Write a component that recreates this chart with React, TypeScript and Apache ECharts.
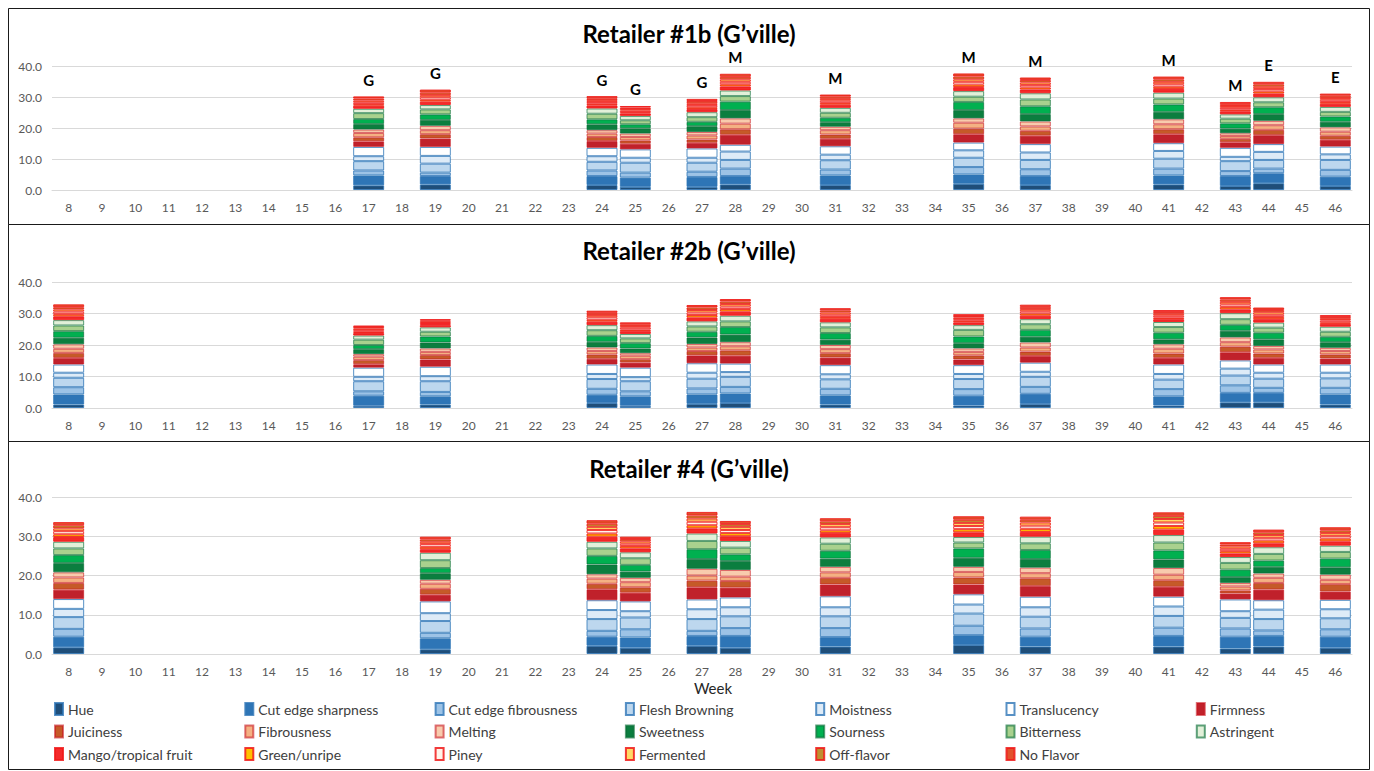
import { useEffect, useRef } from 'react';
import * as echarts from 'echarts';

// Week numbers along the x axis
const weeks = [
  '8', '9', '10', '11', '12', '13', '14', '15', '16', '17', '18', '19', '20', '21', '22', '23', '24', '25', '26', '27',
  '28', '29', '30', '31', '32', '33', '34', '35', '36', '37', '38', '39', '40', '41', '42', '43', '44', '45', '46',
];

const yTicks = [0, 10, 20, 30, 40];

const attributes = [
  'Hue', 'Cut edge sharpness', 'Cut edge fibrousness', 'Flesh Browning', 'Moistness', 'Translucency', 'Firmness',
  'Juiciness', 'Fibrousness', 'Melting', 'Sweetness', 'Sourness', 'Bitterness', 'Astringent',
  'Mango/tropical fruit', 'Green/unripe', 'Piney', 'Fermented', 'Off-flavor', 'No Flavor',
];

const attributeColors = [
  '#1F4E79', '#2E75B6', '#9DC3E6', '#BDD7EE', '#DEEBF7', '#FFFFFF', '#C0212B',
  '#C55A28', '#F4B183', '#F8CBAD', '#0B7E3F', '#00B050', '#A9D18E', '#E2F0D9',
  '#F42A2A', '#FFC000', '#FFF4EA', '#FFD966', '#BF8F30', '#E2512C',
];

const blueEdge = 'rgba(46,117,182,0.8)';
const redEdge = 'rgba(200,20,30,0.6)';
const greenEdge = 'rgba(10,110,55,0.65)';
const flavorEdge = 'rgba(240,25,25,0.85)';
const attributeEdges = [
  blueEdge, blueEdge, blueEdge, blueEdge, blueEdge, blueEdge,
  redEdge, redEdge, redEdge, redEdge,
  greenEdge, greenEdge, greenEdge, greenEdge,
  flavorEdge, flavorEdge, flavorEdge, flavorEdge, flavorEdge, flavorEdge,
];

// ---------------- Retailer #1b ----------------
const r1bWeeks = [17, 19, 24, 25, 27, 28, 31, 35, 37, 41, 43, 44, 46];
const r1bLetters = ['G', 'G', 'G', 'G', 'G', 'M', 'M', 'M', 'M', 'M', 'M', 'E', 'E'];
const r1bHue = [1.5, 1.8, 1.6, 1.0, 1.0, 1.8, 1.6, 2.0, 1.6, 1.8, 1.3, 2.2, 1.3];
const r1bSharp = [3.2, 2.7, 2.9, 3.0, 3.2, 2.7, 3.1, 3.0, 2.9, 2.9, 3.2, 3.2, 3.0];
const r1bEdgeFib = [1.6, 1.1, 1.8, 1.6, 1.7, 2.4, 1.9, 2.4, 2.2, 2.2, 1.6, 1.5, 2.2];
const r1bBrown = [3.0, 2.9, 2.8, 3.2, 2.9, 2.8, 3.0, 3.0, 3.0, 3.2, 3.2, 2.8, 3.2];
const r1bMoist = [1.6, 2.5, 1.8, 1.6, 1.6, 2.7, 1.8, 2.4, 2.4, 2.5, 1.4, 2.6, 1.8];
const r1bTrans = [3.0, 2.9, 2.7, 2.7, 3.0, 2.2, 2.7, 2.5, 2.7, 2.5, 2.9, 2.5, 2.5];
const r1bFirm = [1.8, 2.7, 2.2, 1.8, 1.8, 3.2, 2.4, 2.7, 2.7, 2.9, 1.8, 2.9, 2.2];
const r1bJuicy = [1.3, 1.4, 1.3, 1.1, 1.1, 1.8, 1.4, 1.8, 1.6, 1.6, 1.1, 1.7, 1.3];
const r1bFib = [1.4, 1.3, 1.1, 1.1, 1.3, 1.8, 1.4, 1.9, 1.4, 1.6, 0.9, 1.5, 1.3];
const r1bMelt = [1.1, 1.4, 1.1, 1.1, 1.1, 1.7, 1.1, 1.4, 1.6, 1.6, 0.9, 1.4, 1.4];
const r1bSweet = [1.8, 1.9, 1.9, 1.7, 1.9, 2.7, 1.5, 2.7, 2.4, 2.4, 1.5, 2.2, 1.8];
const r1bSour = [1.6, 1.8, 1.6, 1.3, 1.4, 2.7, 1.4, 2.6, 2.5, 2.4, 1.7, 2.2, 1.7];
const r1bBitter = [1.9, 1.6, 1.8, 1.3, 1.5, 1.8, 1.6, 1.7, 2.2, 1.9, 1.5, 1.6, 1.5];
const r1bAstr = [1.4, 1.4, 1.7, 1.4, 1.6, 1.8, 1.6, 1.8, 2.0, 1.9, 1.4, 1.6, 1.6];
const r1bMango = [1.0, 1.1, 1.0, 0.8, 1.0, 1.3, 1.0, 1.3, 1.2, 1.2, 1.0, 1.2, 1.0];
const r1bGreen = [0.5, 0.6, 0.5, 0.4, 0.6, 0.7, 0.6, 0.8, 0.7, 0.7, 0.5, 0.7, 0.6];
const r1bPiney = [0.6, 0.8, 0.6, 0.5, 0.7, 0.8, 0.7, 0.9, 0.8, 0.8, 0.6, 0.8, 0.7];
const r1bFerm = [0.6, 0.7, 0.6, 0.5, 0.6, 0.8, 0.6, 0.8, 0.8, 0.8, 0.6, 0.7, 0.6];
const r1bOff = [0.6, 0.8, 0.6, 0.5, 0.7, 0.8, 0.7, 0.9, 0.8, 0.8, 0.6, 0.8, 0.7];
const r1bNoFlavor = [0.7, 1.0, 0.7, 0.5, 0.7, 1.0, 0.7, 1.0, 0.8, 0.9, 0.7, 0.8, 0.7];

// ---------------- Retailer #2b ----------------
const r2bWeeks = [8, 17, 19, 24, 25, 27, 28, 31, 35, 37, 41, 43, 44, 46];
const r2bHue = [1.1, 0.7, 1.1, 1.6, 0.7, 1.3, 1.6, 1.1, 0.8, 1.3, 0.8, 1.8, 1.8, 1.1];
const r2bSharp = [3.2, 3.2, 2.6, 2.6, 3.0, 3.0, 3.0, 2.9, 3.1, 3.2, 2.9, 3.0, 3.0, 3.2];
const r2bEdgeFib = [2.3, 1.4, 1.4, 1.9, 1.6, 1.9, 2.1, 2.1, 2.1, 2.2, 2.3, 2.4, 1.6, 2.1];
const r2bBrown = [3.0, 3.2, 3.4, 3.1, 3.2, 3.1, 3.2, 3.0, 3.2, 3.2, 3.0, 3.1, 2.9, 3.0];
const r2bMoist = [1.6, 1.4, 1.6, 1.6, 1.3, 1.9, 1.5, 1.6, 1.6, 1.6, 1.8, 2.2, 1.9, 1.8];
const r2bTrans = [2.6, 2.9, 3.0, 3.0, 3.0, 3.0, 2.7, 2.9, 2.8, 2.9, 3.0, 2.6, 2.6, 2.6];
const r2bFirm = [2.1, 1.1, 2.3, 1.8, 1.6, 2.5, 2.5, 2.4, 1.8, 2.1, 2.1, 2.6, 2.1, 1.9];
const r2bJuicy = [1.6, 1.3, 1.4, 1.4, 1.1, 1.4, 1.7, 1.4, 1.3, 1.4, 1.4, 1.8, 1.4, 1.3];
const r2bFib = [1.3, 1.1, 1.0, 1.1, 1.1, 1.1, 1.3, 1.3, 1.1, 1.3, 1.5, 1.4, 1.3, 1.1];
const r2bMelt = [1.4, 0.8, 1.1, 1.1, 0.8, 1.1, 1.3, 1.3, 1.1, 1.6, 1.4, 1.5, 1.1, 1.0];
const r2bSweet = [2.1, 1.6, 1.9, 1.8, 1.5, 2.1, 2.4, 1.7, 1.7, 1.8, 1.6, 2.1, 2.1, 1.8];
const r2bSour = [2.1, 1.3, 1.9, 1.9, 1.7, 1.8, 2.4, 2.1, 2.1, 2.2, 2.1, 1.9, 2.1, 1.7];
const r2bBitter = [1.8, 1.7, 1.5, 1.8, 1.5, 1.7, 1.8, 1.8, 2.1, 1.8, 1.8, 1.8, 1.6, 1.6];
const r2bAstr = [1.7, 1.3, 1.4, 1.6, 1.4, 1.6, 1.8, 1.6, 1.5, 1.6, 1.6, 1.9, 1.6, 1.6];
const r2bMango = [1.2, 0.8, 0.7, 1.1, 0.9, 1.2, 1.3, 1.1, 0.9, 1.1, 0.9, 1.2, 1.1, 0.9];
const r2bGreen = [0.7, 0.4, 0.3, 0.6, 0.5, 0.8, 0.8, 0.6, 0.5, 0.7, 0.5, 0.8, 0.7, 0.5];
const r2bPiney = [0.8, 0.5, 0.4, 0.8, 0.6, 0.8, 0.8, 0.7, 0.5, 0.7, 0.6, 0.8, 0.7, 0.6];
const r2bFerm = [0.7, 0.5, 0.4, 0.7, 0.5, 0.8, 0.8, 0.7, 0.5, 0.7, 0.6, 0.8, 0.8, 0.5];
const r2bOff = [0.7, 0.5, 0.4, 0.7, 0.6, 0.8, 0.8, 0.7, 0.5, 0.7, 0.6, 0.7, 0.7, 0.6];
const r2bNoFlavor = [0.9, 0.5, 0.4, 0.7, 0.6, 0.8, 0.8, 0.7, 0.6, 0.7, 0.6, 0.8, 0.8, 0.6];

// ---------------- Retailer #4 ----------------
const r4Weeks = [8, 19, 24, 25, 27, 28, 31, 35, 37, 41, 43, 44, 46];
const r4Hue = [1.7, 1.2, 2.1, 1.6, 2.1, 1.6, 1.9, 2.3, 1.9, 1.9, 1.4, 1.9, 1.6];
const r4Sharp = [2.7, 2.8, 2.3, 2.6, 2.5, 3.0, 2.4, 2.5, 2.5, 2.7, 3.0, 2.7, 2.8];
const r4EdgeFib = [2.0, 1.4, 1.5, 2.1, 1.3, 2.0, 2.3, 2.4, 2.1, 2.1, 2.1, 1.4, 1.9];
const r4Brown = [3.0, 3.0, 3.0, 3.0, 3.0, 3.0, 3.0, 3.1, 3.0, 3.0, 2.7, 2.9, 2.8];
const r4Moist = [2.1, 2.0, 2.3, 1.6, 2.5, 2.3, 2.3, 2.3, 2.4, 2.4, 1.7, 2.4, 2.3];
const r4Trans = [2.5, 3.0, 2.5, 2.5, 2.5, 2.5, 2.8, 2.6, 2.7, 2.5, 3.0, 2.4, 2.4];
const r4Firm = [2.4, 1.7, 2.8, 2.2, 3.1, 2.5, 3.0, 2.5, 2.7, 2.5, 1.5, 2.7, 2.1];
const r4Juicy = [1.7, 1.5, 1.4, 1.4, 1.7, 1.7, 1.7, 1.8, 2.0, 1.7, 0.8, 1.7, 1.9];
const r4Fib = [1.4, 1.3, 1.3, 1.3, 1.3, 1.1, 1.4, 1.4, 1.3, 1.4, 1.0, 1.3, 1.1];
const r4Melt = [1.3, 1.0, 1.1, 1.1, 1.7, 1.7, 1.4, 1.3, 1.4, 1.7, 0.9, 1.1, 1.3];
const r4Sweet = [2.4, 1.7, 2.5, 1.6, 2.5, 2.3, 2.1, 2.3, 2.2, 2.2, 1.5, 1.7, 1.9];
const r4Sour = [2.0, 1.3, 2.2, 1.7, 2.5, 1.7, 2.0, 2.4, 2.3, 2.3, 1.9, 1.6, 2.2];
const r4Bitter = [1.7, 2.0, 1.9, 1.7, 2.1, 1.7, 1.8, 1.5, 1.7, 2.0, 1.7, 1.7, 1.7];
const r4Astr = [1.7, 1.9, 1.7, 1.5, 1.9, 1.7, 1.6, 1.4, 1.7, 1.9, 1.5, 1.7, 1.6];
const r4Mango = [1.2, 0.9, 1.3, 1.0, 1.3, 1.2, 1.1, 1.2, 1.2, 1.4, 0.9, 1.0, 1.1];
const r4Green = [0.7, 0.6, 0.8, 0.6, 0.8, 0.8, 0.7, 0.8, 0.8, 0.9, 0.6, 0.7, 0.7];
const r4Piney = [0.8, 0.7, 0.9, 0.6, 0.9, 0.8, 0.8, 0.8, 0.8, 0.9, 0.6, 0.7, 0.7];
const r4Ferm = [0.7, 0.6, 0.8, 0.6, 0.8, 0.8, 0.8, 0.8, 0.8, 0.9, 0.6, 0.7, 0.7];
const r4Off = [0.8, 0.6, 0.8, 0.6, 0.8, 0.7, 0.7, 0.8, 0.7, 0.8, 0.5, 0.7, 0.7];
const r4NoFlavor = [0.8, 0.7, 0.9, 0.6, 0.9, 0.8, 0.8, 0.9, 0.8, 0.9, 0.6, 0.7, 0.8];

const r1bRows = [
  r1bHue, r1bSharp, r1bEdgeFib, r1bBrown, r1bMoist, r1bTrans, r1bFirm, r1bJuicy, r1bFib, r1bMelt,
  r1bSweet, r1bSour, r1bBitter, r1bAstr, r1bMango, r1bGreen, r1bPiney, r1bFerm, r1bOff, r1bNoFlavor,
];
const r2bRows = [
  r2bHue, r2bSharp, r2bEdgeFib, r2bBrown, r2bMoist, r2bTrans, r2bFirm, r2bJuicy, r2bFib, r2bMelt,
  r2bSweet, r2bSour, r2bBitter, r2bAstr, r2bMango, r2bGreen, r2bPiney, r2bFerm, r2bOff, r2bNoFlavor,
];
const r4Rows = [
  r4Hue, r4Sharp, r4EdgeFib, r4Brown, r4Moist, r4Trans, r4Firm, r4Juicy, r4Fib, r4Melt,
  r4Sweet, r4Sour, r4Bitter, r4Astr, r4Mango, r4Green, r4Piney, r4Ferm, r4Off, r4NoFlavor,
];

const FONT = 'Lato, "Open Sans", sans-serif';

const panels = [
  { title: 'Retailer #1b (G\u2019ville)', sampled: r1bWeeks, rows: r1bRows, letters: r1bLetters, top: 66, height: 124, titleY: 33, box: [8.5, 8.5, 1361, 216] },
  { title: 'Retailer #2b (G\u2019ville)', sampled: r2bWeeks, rows: r2bRows, letters: null as string[] | null, top: 282, height: 126, titleY: 250, box: [8.5, 224.5, 1361, 217] },
  { title: 'Retailer #4 (G\u2019ville)', sampled: r4Weeks, rows: r4Rows, letters: null as string[] | null, top: 497, height: 157, titleY: 468, box: [8.5, 441.5, 1361, 328] },
];

function spread(sampled: number[], values: number[]) {
  return weeks.map((w) => {
    const i = sampled.indexOf(Number(w));
    return i >= 0 ? values[i] : null;
  });
}

function buildOption() {
  const grid: any[] = [];
  const xAxis: any[] = [];
  const yAxis: any[] = [];
  const series: any[] = [];
  const graphic: any[] = [];

  panels.forEach((p, pi) => {
    grid.push({ left: 52, width: 1300, top: p.top, height: p.height });
    xAxis.push({
      type: 'category',
      gridIndex: pi,
      data: weeks,
      axisTick: { show: false },
      axisLine: { lineStyle: { color: '#D9D9D9', width: 1 } },
      axisLabel: { interval: 0, color: '#595959', fontSize: 12, fontFamily: FONT, margin: 11 },
    });
    yAxis.push({
      type: 'value',
      gridIndex: pi,
      min: yTicks[0],
      max: yTicks[yTicks.length - 1],
      interval: 10,
      axisLine: { show: false },
      axisTick: { show: false },
      axisLabel: { color: '#595959', fontSize: 12, fontFamily: FONT, margin: 10, formatter: (v: number) => v.toFixed(1) },
      splitLine: { lineStyle: { color: '#D9D9D9', width: 1 } },
    });

    attributes.forEach((name, ai) => {
      const isTop = ai === attributes.length - 1;
      const s: any = {
        type: 'bar',
        name,
        stack: 'panel' + pi,
        xAxisIndex: pi,
        yAxisIndex: pi,
        barCategoryGap: '7%',
        data: spread(p.sampled, p.rows[ai]),
        itemStyle: { color: attributeColors[ai], borderColor: attributeEdges[ai], borderWidth: 1 },
        emphasis: { disabled: true },
      };
      if (isTop && p.letters) {
        const letters = p.letters;
        const sampled = p.sampled;
        s.label = {
          show: true,
          position: 'top',
          distance: 9,
          fontSize: 15,
          fontWeight: 'bold',
          fontFamily: FONT,
          color: '#000000',
          formatter: (params: any) => {
            const i = sampled.indexOf(Number(params.name));
            return i >= 0 ? letters[i] : '';
          },
        };
      }
      series.push(s);
    });

    graphic.push({
      type: 'rect',
      shape: { x: p.box[0], y: p.box[1], width: p.box[2], height: p.box[3] },
      style: { fill: 'none', stroke: '#1a1a1a', lineWidth: 1 },
      silent: true,
    });
    graphic.push({
      type: 'text',
      x: 689,
      y: p.titleY,
      style: {
        text: p.title,
        font: `bold 24px ${FONT}`,
        fill: '#000000',
        textAlign: 'center',
        textVerticalAlign: 'middle',
        align: 'center',
        verticalAlign: 'middle',
      },
      silent: true,
    });
  });

  graphic.push({
    type: 'text',
    x: 713,
    y: 688,
    style: {
      text: 'Week',
      font: `15px ${FONT}`,
      fill: '#262626',
      textAlign: 'center',
      textVerticalAlign: 'middle',
      align: 'center',
      verticalAlign: 'middle',
    },
    silent: true,
  });

  // Seven legend columns, three rows each
  const legend: any[] = [];
  for (let c = 0; c < 7; c++) {
    const items = [attributes[c], attributes[c + 7], attributes[c + 14]].filter(Boolean);
    legend.push({
      orient: 'vertical',
      left: 54 + c * 190.3,
      top: 701,
      height: 70,
      padding: 0,
      itemWidth: 8,
      itemHeight: 12,
      itemGap: 6.5,
      icon: 'rect',
      selectedMode: false,
      data: items,
      textStyle: { fontFamily: FONT, fontSize: 14, lineHeight: 16, color: '#404040' },
    });
  }

  return {
    animation: false,
    backgroundColor: '#ffffff',
    grid,
    xAxis,
    yAxis,
    series,
    legend,
    graphic,
  };
}

export default function App() {
  const ref = useRef<HTMLDivElement>(null);

  useEffect(() => {
    if (!ref.current) return;
    const chart = echarts.init(ref.current, undefined, { renderer: 'svg' });
    chart.setOption(buildOption());
    return () => chart.dispose();
  }, []);

  return (
    <div
      ref={ref}
      style={{ position: 'absolute', left: 0, top: 0, width: 1374, height: 771, background: '#ffffff' }}
    />
  );
}
